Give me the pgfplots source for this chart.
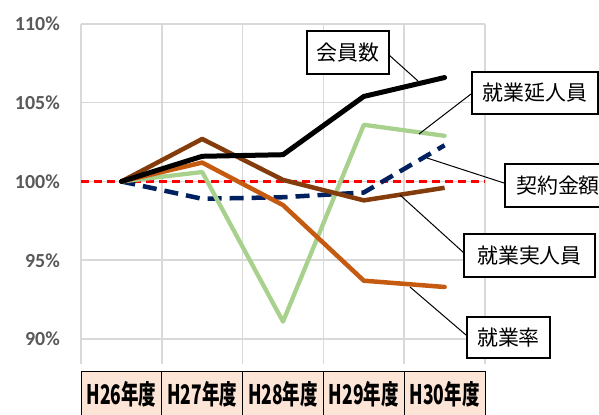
\documentclass[border=0pt]{standalone}
\usepackage{fontspec}
\usepackage{graphicx}
\usepackage{pgfplots}
\pgfplotsset{compat=1.18}
\setmainfont{Carlito}
\newfontfamily\cjk{Noto Sans CJK JP}
\definecolor{gridgray}{HTML}{D9D9D9}
\definecolor{tickgray}{HTML}{595959}
\definecolor{peach}{HTML}{FCE4D6}
\definecolor{lgreen}{HTML}{A9D18E}
\definecolor{navy}{HTML}{002060}
\definecolor{brownc}{HTML}{843C0C}
\definecolor{orangec}{HTML}{C55A11}
\begin{document}
\begin{tikzpicture}[x=1bp,y=1bp]
\begin{axis}[at={(81bp,50bp)}, anchor=south west, scale only axis,
  width=404bp, height=340bp,
  xmin=-0.5, xmax=4.5, ymin=88.41, ymax=110,
  xtick={0,1,2,3,4},
  xticklabels={{\scalebox{0.65}[1]{H26年度}},{\scalebox{0.65}[1]{H27年度}},{\scalebox{0.65}[1]{H28年度}},{\scalebox{0.65}[1]{H29年度}},{\scalebox{0.65}[1]{H30年度}}},
  minor xtick={-0.5,0.5,1.5,2.5,3.5,4.5},
  ytick={90,95,100,105,110},
  yticklabels={90\%,95\%,100\%,105\%,110\%},
  xminorgrids=true, ymajorgrids=true, xmajorgrids=false,
  grid style={draw=gridgray, line width=1.5bp},
  minor grid style={draw=gridgray, line width=1.5bp},
  major tick length=0pt, minor tick length=0pt,
  axis line style={draw=none},
  clip=false,
  yticklabel style={font=\fontsize{20}{24}\selectfont\bfseries, text=tickgray, inner sep=0pt, anchor=east, xshift=-21bp},
  xticklabel style={draw=black, line width=0.8bp, fill=peach, minimum width=81bp, minimum height=46bp, inner sep=0pt, anchor=north, yshift=-7bp, font=\cjk\bfseries\fontsize{27}{30}\selectfont},
]
\addplot[red, line width=2.6bp, dash pattern=on 8bp off 5bp] coordinates {(-0.5,100) (4.5,100)};
\addplot[navy, line width=4.5bp, dash pattern=on 14bp off 8bp] coordinates {(0,100) (1,98.9) (2,99.0) (3,99.3) (4,102.3)};
\addplot[lgreen, line width=4.3bp, line join=round, line cap=round] coordinates {(0,100) (1,100.6) (2,91.1) (3,103.6) (4,102.9)};
\addplot[orangec, line width=4.5bp, line join=round, line cap=round] coordinates {(0,100) (1,101.2) (2,98.5) (3,93.7) (4,93.3)};
\addplot[brownc, line width=4.5bp, line join=round] coordinates {(0,100) (1,102.7) (2,100.1) (3,98.8) (4,99.6)};
\addplot[black, line width=5bp, line join=round, line cap=round] coordinates {(0,100) (1,101.6) (2,101.7) (3,105.4) (4,106.6)};
\end{axis}
% leader lines
\draw[black, line width=1bp] (389,359) -- (418,333);
\draw[black, line width=1bp] (471,320) -- (419,280);
\draw[black, line width=1bp] (504,231) -- (427,256);
\draw[black, line width=1bp] (464,161) -- (400,219);
\draw[black, line width=1bp] (410,127) -- (466,79);
% callout boxes
\tikzset{callout/.style={draw=black, line width=1.2bp, fill=white, minimum height=43bp, inner sep=0pt, font=\cjk\fontsize{21}{24}\selectfont}}
\node[callout, minimum width=82bp] at (348,361.5) {会員数};
\node[callout, minimum width=126bp, minimum height=42bp] at (535,321) {就業延人員};
\node[callout, minimum width=106bp] at (558,228.5) {契約金額};
\node[callout, minimum width=131bp] at (529.5,158.5) {就業実人員};
\node[callout, minimum width=83bp, minimum height=41bp] at (508.5,76.5) {就業率};
\pgfresetboundingbox
\path[use as bounding box] (0,0) rectangle (599,414);
\end{tikzpicture}
\end{document}
